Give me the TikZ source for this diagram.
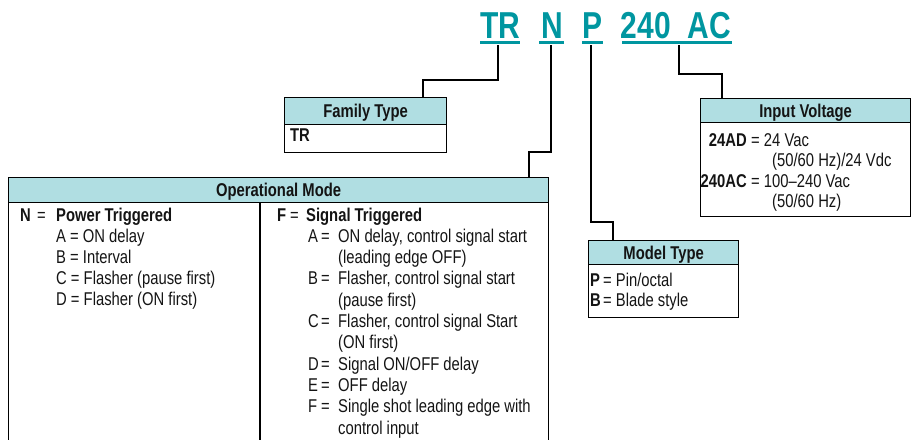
\documentclass[tikz,border=0pt]{standalone}
\usepackage{fontspec}
\setmainfont{Liberation Sans}[FakeStretch=0.8]
\definecolor{tealT}{RGB}{0,150,160}
\definecolor{hdrfill}{RGB}{176,222,226}
\definecolor{ink}{RGB}{20,20,20}
\tikzset{
  body/.style={font=\fontsize{18.5}{21}\selectfont, inner sep=0, anchor=base west, text=ink},
  bbody/.style={body, font=\fontsize{18.5}{21}\selectfont\bfseries},
  hdrbox/.style={draw=black, line width=1.2, fill=hdrfill, inner sep=0, anchor=north west,
    font=\fontsize{18.5}{21}\selectfont\bfseries, text=ink, text height=13.3, text depth=0},
  framebox/.style={draw=black, line width=1.2, inner sep=0, anchor=north west},
  conn/.style={draw=black, line width=2},
  titletext/.style={font=\fontsize{37.5}{40}\selectfont\bfseries, text=tealT, inner sep=0, anchor=base},
  uline/.style={draw=tealT, line width=3}
}
\begin{document}
\begin{tikzpicture}[x=1pt,y=-1pt]
\useasboundingbox (0,0) rectangle (912,439);

% title code
\node[titletext] (tr) at (500,38.5) {TR};
\node[titletext] (nn) at (552,38.5) {N};
\node[titletext] (pp) at (592,38.5) {P};
\node[titletext] (v240) at (646,38.5) {240};
\node[titletext] (vac) at (709,38.5) {AC};
\draw[uline] (480,42.5) -- (520,42.5);
\draw[uline] (539,42.5) -- (564,42.5);
\draw[uline] (582,42.5) -- (603,42.5);
\draw[uline] (622,42.5) -- (732,42.5);

% boxes
\node[hdrbox, minimum width=162, minimum height=27] (famh) at (284,97) {Family Type};
\node[framebox, minimum width=162, minimum height=55] (fam) at (284,97) {};

\node[hdrbox, minimum width=540, minimum height=25] (oph) at (8,177) {Operational Mode};
\node[framebox, minimum width=540, minimum height=290] (op) at (8,177) {};
\draw[draw=black, line width=1.2] (260,202) -- (260,470);

\node[hdrbox, minimum width=210, minimum height=24] (ivh) at (700,98) {Input Voltage};
\node[framebox, minimum width=210, minimum height=118] (iv) at (700,98) {};

\node[hdrbox, minimum width=150, minimum height=24] (mth) at (588,240) {Model Type};
\node[framebox, minimum width=150, minimum height=77] (mt) at (588,240) {};

% connectors
\coordinate (c1) at (498,45);
\coordinate (c2) at (551,45);
\coordinate (c3) at (591,45);
\coordinate (c4) at (679,45);
\coordinate (e1) at (423,97);
\coordinate (e2) at (529,177);
\coordinate (e3) at (613,240);
\coordinate (e4) at (722,98);
\draw[conn] (c1) -- ++(0,35) -| (e1);
\draw[conn] (c2) -- ++(0,107) -| (e2);
\draw[conn] (c3) -- ++(0,177) -| (e3);
\draw[conn] (c4) -- ++(0,29) -| (e4);

% family
\node[bbody] (famtr) at (290,141) {TR};

% operational mode, N column
\node[bbody] (nl) at (20,221) {N};
\node[body] (neq) at (37,221) {=};
\node[bbody] (npt) at (56,221) {Power Triggered};
\node[body] (na) at (56,242.2) {A = ON delay};
\node[body] (nb) at (56,263.4) {B = Interval};
\node[body] (nc) at (56,284.6) {C = Flasher (pause first)};
\node[body] (nd) at (56,305.8) {D = Flasher (ON first)};

% F column
\node[bbody] (fl) at (277,221) {F};
\node[body] (feq) at (290,221) {=};
\node[bbody] (fst) at (306,221) {Signal Triggered};

\node[body] (fa) at (308,242.3) {A};
\node[body] (fae) at (321,242.3) {=};
\node[body] (fat) at (338,242.3) {ON delay, control signal start};
\node[body] (fat2) at (338,263.6) {(leading edge OFF)};
\node[body] (fb) at (308,284.9) {B};
\node[body] (fbe) at (321,284.9) {=};
\node[body] (fbt) at (338,284.9) {Flasher, control signal start};
\node[body] (fbt2) at (338,306.2) {(pause first)};
\node[body] (fc) at (308,327.5) {C};
\node[body] (fce) at (321,327.5) {=};
\node[body] (fct) at (338,327.5) {Flasher, control signal Start};
\node[body] (fct2) at (338,348.8) {(ON first)};
\node[body] (fd) at (308,370.1) {D};
\node[body] (fde) at (321,370.1) {=};
\node[body] (fdt) at (338,370.1) {Signal ON/OFF delay};
\node[body] (fe) at (308,391.4) {E};
\node[body] (fee) at (321,391.4) {=};
\node[body] (fet) at (338,391.4) {OFF delay};
\node[body] (ff) at (308,412.7) {F};
\node[body] (ffe) at (321,412.7) {=};
\node[body] (fft) at (338,412.7) {Single shot leading edge with};
\node[body] (fft2) at (338,434) {control input};

% input voltage
\node[bbody, anchor=base east] (iva) at (747,146) {24AD};
\node[body] (ivat) at (751,146) {= 24 Vac};
\node[body] (ivat2) at (772,166.5) {(50/60 Hz)/24 Vdc};
\node[bbody, anchor=base east] (ivb) at (747,187) {240AC};
\node[body] (ivbt) at (751,187) {= 100–240 Vac};
\node[body] (ivbt2) at (772,207.5) {(50/60 Hz)};

% model type
\node[bbody] (mtp) at (590,286) {P};
\node[body] (mtpt) at (603,286) {= Pin/octal};
\node[bbody] (mtb) at (590,306) {B};
\node[body] (mtbt) at (603,306) {= Blade style};
\end{tikzpicture}
\end{document}
